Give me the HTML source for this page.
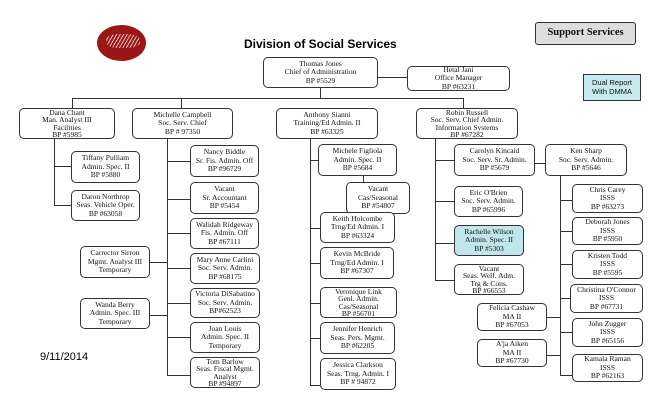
<!DOCTYPE html>
<html><head><meta charset="utf-8"><style>
body{margin:0;width:654px;height:400px;background:#fff;position:relative;overflow:hidden;font-family:"Liberation Serif",serif}
.b{position:absolute;border:1px solid #333;border-radius:5px;background:#fff;font-size:7.5px;line-height:8.5px;text-align:center;display:flex;flex-direction:column;justify-content:center;color:#111;box-sizing:border-box;white-space:nowrap}
.f{line-height:7.2px}
.h{position:absolute;height:1px;background:#333}
.v{position:absolute;width:1px;background:#333}
</style></head><body>
<div style="position:absolute;left:97px;top:25px;width:49px;height:36px;border-radius:50%;background:#9b1717"></div>
<div style="position:absolute;left:106px;top:34px;width:34px;height:14px;background:repeating-linear-gradient(120deg,#fff 0 1px,transparent 1px 3px);opacity:.7;border-radius:40%"></div>
<div style="position:absolute;left:244px;top:37px;font:bold 12px 'Liberation Sans',sans-serif">Division of Social Services</div>
<div class="b" style="left:535px;top:22px;width:101px;height:23px;background:#ddd;font-weight:bold;font-size:10.5px;border-radius:3px">Support Services</div>
<div class="b" style="left:583px;top:74px;width:58px;height:27px;background:#c6eaee;border-radius:0;font-family:'Liberation Sans',sans-serif;font-size:7.5px">Dual Report<br>With DMMA</div>
<div style="position:absolute;left:40px;top:351px;font:11px 'Liberation Sans',sans-serif">9/11/2014</div>

<!-- lines -->
<div class="v" style="left:320px;top:88px;height:10px"></div>
<div class="h" style="left:378px;top:77px;width:29px"></div>
<div class="h" style="left:72px;top:98px;width:392px"></div>
<div class="v" style="left:72px;top:98px;height:10px"></div>
<div class="v" style="left:181px;top:98px;height:10px"></div>
<div class="v" style="left:463px;top:98px;height:10px"></div>
<div class="v" style="left:54px;top:139px;height:66px"></div>
<div class="h" style="left:54px;top:166px;width:17px"></div>
<div class="h" style="left:54px;top:205px;width:17px"></div>
<div class="v" style="left:167px;top:139px;height:236px"></div>
<div class="h" style="left:167px;top:161px;width:23px"></div>
<div class="h" style="left:167px;top:199px;width:23px"></div>
<div class="h" style="left:167px;top:233px;width:23px"></div>
<div class="h" style="left:167px;top:268px;width:23px"></div>
<div class="h" style="left:167px;top:303px;width:23px"></div>
<div class="h" style="left:167px;top:337px;width:23px"></div>
<div class="h" style="left:167px;top:375px;width:23px"></div>
<div class="h" style="left:150px;top:262px;width:17px"></div>
<div class="h" style="left:150px;top:315px;width:17px"></div>
<div class="v" style="left:310px;top:139px;height:246px"></div>
<div class="h" style="left:310px;top:160px;width:8px"></div>
<div class="v" style="left:363px;top:176px;height:6px"></div>
<div class="h" style="left:310px;top:228px;width:10px"></div>
<div class="h" style="left:310px;top:263px;width:10px"></div>
<div class="h" style="left:310px;top:303px;width:10px"></div>
<div class="h" style="left:310px;top:338px;width:10px"></div>
<div class="h" style="left:310px;top:385px;width:10px"></div>
<div class="v" style="left:435px;top:139px;height:141px"></div>
<div class="h" style="left:435px;top:160px;width:19px"></div>
<div class="h" style="left:435px;top:201px;width:19px"></div>
<div class="h" style="left:435px;top:243px;width:19px"></div>
<div class="h" style="left:435px;top:280px;width:19px"></div>
<div class="h" style="left:535px;top:163px;width:10px"></div>
<div class="v" style="left:560px;top:176px;height:199px"></div>
<div class="h" style="left:560px;top:200px;width:12px"></div>
<div class="h" style="left:560px;top:231px;width:12px"></div>
<div class="h" style="left:560px;top:264px;width:12px"></div>
<div class="h" style="left:560px;top:298px;width:12px"></div>
<div class="h" style="left:560px;top:332px;width:12px"></div>
<div class="h" style="left:560px;top:375px;width:12px"></div>
<div class="h" style="left:547px;top:317px;width:13px"></div>
<div class="h" style="left:547px;top:355px;width:13px"></div>

<!-- boxes -->
<div class="b" style="left:263px;top:57px;width:115px;height:31px">Thomas Jones<br>Chief of Administration<br>BP #5529</div>
<div class="b" style="left:407px;top:66px;width:103px;height:25px">Hetal Jani<br>Office  Manager<br>BP #63231</div>
<div class="b f" style="left:19px;top:108px;width:96px;height:31px">Dana Chant<br>Man. Analyst III<br>Facilities<br>BP #5985</div>
<div class="b" style="left:132px;top:108px;width:101px;height:31px">Michelle Campbell<br>Soc. Serv. Chief<br>BP # 97350</div>
<div class="b" style="left:276px;top:108px;width:102px;height:31px">Anthony Sianni<br>Training/Ed Admin. II<br>BP #63325</div>
<div class="b f" style="left:416px;top:108px;width:102px;height:31px">Robin Russell<br>Soc. Serv. Chief Admin.<br>Information Systems<br>BP #67282</div>
<div class="b" style="left:71px;top:151px;width:69px;height:32px">Tiffany Pulliam<br>Admin. Spec. II<br>BP #5880</div>
<div class="b" style="left:71px;top:190px;width:69px;height:31px">Daron Northrop<br>Seas. Vehicle Oper.<br>BP #63058</div>
<div class="b" style="left:190px;top:145px;width:69px;height:32px">Nancy Biddle<br>Sr. Fis. Admin. Off<br>BP #96729</div>
<div class="b" style="left:190px;top:182px;width:69px;height:32px">Vacant<br>Sr. Accountant<br>BP #5454</div>
<div class="b" style="left:190px;top:218px;width:69px;height:31px">Walidah Ridgeway<br>Fis. Admin. Off<br>BP #67111</div>
<div class="b" style="left:190px;top:253px;width:70px;height:31px">Mary Anne Carlini<br>Soc. Serv. Admin.<br>BP #68175</div>
<div class="b" style="left:190px;top:288px;width:70px;height:30px">Victoria DiSabatino<br>Soc. Serv. Admin.<br>BP#62523</div>
<div class="b" style="left:190px;top:322px;width:70px;height:31px">Joan Louis<br>Admin. Spec. II<br>Temporary</div>
<div class="b f" style="left:190px;top:357px;width:70px;height:31px">Tom Barlow<br>Seas. Fiscal Mgmt.<br>Analyst<br>BP #94897</div>
<div class="b" style="left:80px;top:246px;width:70px;height:32px">Carrector Sirron<br>Mgmt. Analyst III<br>Temporary</div>
<div class="b" style="left:80px;top:298px;width:70px;height:31px">Wanda Berry<br>Admin. Spec. III<br>Temporary</div>
<div class="b" style="left:318px;top:144px;width:79px;height:32px">Michele Figliola<br>Admin. Spec. II<br>BP #5684</div>
<div class="b" style="left:346px;top:182px;width:64px;height:32px">Vacant<br>Cas/Seasonal<br>BP #54807</div>
<div class="b" style="left:320px;top:212px;width:75px;height:31px">Keith Holcombe<br>Trng/Ed Admin. I<br>BP #63324</div>
<div class="b" style="left:320px;top:247px;width:74px;height:32px">Kevin McBride<br>Trng/Ed Admin. I<br>BP #67307</div>
<div class="b f" style="left:320px;top:287px;width:77px;height:31px">Veronique Link<br>Genl. Admin.<br>Cas/Seasonal<br>BP #56701</div>
<div class="b" style="left:320px;top:322px;width:75px;height:32px">Jennifer Henrich<br>Seas. Pers. Mgmt.<br>BP #62205</div>
<div class="b" style="left:320px;top:358px;width:76px;height:32px">Jessica Clarkson<br>Seas. Trng. Admin. I<br>BP # 94872</div>
<div class="b" style="left:454px;top:144px;width:81px;height:32px">Carolyn Kincaid<br>Soc. Serv. Sr. Admin.<br>BP #5679</div>
<div class="b" style="left:454px;top:186px;width:69px;height:31px">Eric O'Brien<br>Soc. Serv. Admin.<br>BP #65996</div>
<div class="b" style="left:454px;top:225px;width:70px;height:31px;background:#bfe6ea">Rachelle Wilson<br>Admin. Spec. II<br>BP #5303</div>
<div class="b f" style="left:454px;top:264px;width:70px;height:31px">Vacant<br>Seas. Welf. Adm.<br>Trg &amp; Cons.<br>BP #66553</div>
<div class="b" style="left:545px;top:144px;width:82px;height:32px">Ken Sharp<br>Soc. Serv. Admin.<br>BP #5646</div>
<div class="b" style="left:572px;top:184px;width:71px;height:29px">Chris Carey<br>ISSS<br>BP #63273</div>
<div class="b" style="left:572px;top:217px;width:71px;height:28px">Deborah Jones<br>ISSS<br>BP #5950</div>
<div class="b" style="left:572px;top:250px;width:71px;height:29px">Kristen Todd<br>ISSS<br>BP #5595</div>
<div class="b" style="left:570px;top:284px;width:73px;height:29px">Christina O'Connor<br>ISSS<br>BP #67731</div>
<div class="b" style="left:572px;top:318px;width:71px;height:29px">John Zugger<br>ISSS<br>BP #65156</div>
<div class="b" style="left:572px;top:354px;width:71px;height:28px">Kamala Raman<br>ISSS<br>BP #62163</div>
<div class="b" style="left:477px;top:303px;width:70px;height:28px">Felicia Cashaw<br>MA II<br>BP #67053</div>
<div class="b" style="left:477px;top:339px;width:70px;height:28px">A'ja Aiken<br>MA II<br>BP #67730</div>
</body></html>
